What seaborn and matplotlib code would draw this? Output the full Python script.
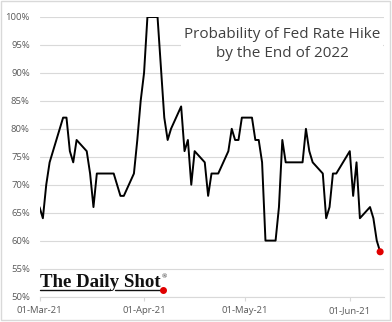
import matplotlib
matplotlib.use("Agg")
import matplotlib.pyplot as plt
import matplotlib.dates as mdates
from matplotlib.ticker import PercentFormatter, MultipleLocator
from matplotlib.lines import Line2D
from matplotlib.patches import Rectangle
import seaborn as sns
import pandas as pd

dates = [
    "2021-03-01", "2021-03-02", "2021-03-03", "2021-03-04", "2021-03-05",
    "2021-03-08", "2021-03-09", "2021-03-10", "2021-03-11", "2021-03-12",
    "2021-03-15", "2021-03-16", "2021-03-17", "2021-03-18", "2021-03-19",
    "2021-03-22", "2021-03-23", "2021-03-24", "2021-03-25", "2021-03-26",
    "2021-03-29", "2021-03-30", "2021-03-31", "2021-04-01", "2021-04-02",
    "2021-04-05", "2021-04-06", "2021-04-07", "2021-04-08", "2021-04-09",
    "2021-04-12", "2021-04-13", "2021-04-14", "2021-04-15", "2021-04-16",
    "2021-04-19", "2021-04-20", "2021-04-21", "2021-04-22", "2021-04-23",
    "2021-04-26", "2021-04-27", "2021-04-28", "2021-04-29", "2021-04-30",
    "2021-05-03", "2021-05-04", "2021-05-05", "2021-05-06", "2021-05-07",
    "2021-05-10", "2021-05-11", "2021-05-12", "2021-05-13", "2021-05-14",
    "2021-05-17", "2021-05-18", "2021-05-19", "2021-05-20", "2021-05-21",
    "2021-05-24", "2021-05-25", "2021-05-26", "2021-05-27", "2021-05-28",
    "2021-06-01", "2021-06-02", "2021-06-03", "2021-06-04",
    "2021-06-07", "2021-06-08", "2021-06-09", "2021-06-10",
]
probability = [
    66, 64, 70, 74, 76, 82, 82, 76, 74, 78, 76, 72, 66, 72, 72,
    72, 72, 70, 68, 68, 72, 78, 85, 90, 100,
    100, 91, 82, 78, 80, 84, 76, 78, 70, 76, 74, 68, 72, 72, 72,
    76, 80, 78, 78, 82,
    82, 78, 78, 74, 60, 60, 66, 78, 74, 74, 74, 74, 80, 76, 74,
    72, 64, 66, 72, 72,
    76, 68, 74, 64, 66, 64, 60, 58,
]
title_text = "Probability of Fed Rate Hike\nby the End of 2022"
logo_text = "The Daily Shot"

df = pd.DataFrame({"date": pd.to_datetime(dates), "prob": probability})

sns.set_theme(style="white")
plt.rcParams["font.family"] = ["Open Sans", "DejaVu Sans"]

fig = plt.figure(figsize=(3.92, 3.22), dpi=100)
fig.patch.set_facecolor("white")
ax = fig.add_axes([39.5 / 392, (322 - 296.5) / 322, (383.5 - 39.5) / 392, (296.5 - 17) / 322])

sns.lineplot(data=df, x="date", y="prob", ax=ax, color="black", linewidth=1.4, zorder=3)
sns.scatterplot(data=df.tail(1), x="date", y="prob", ax=ax, color="#e00000",
                s=26, edgecolor="none", zorder=4)

ax.set_ylim(50, 100)
ax.set_xlim(pd.Timestamp("2021-03-01"), pd.Timestamp("2021-06-11"))
ax.yaxis.set_major_locator(MultipleLocator(5))
ax.yaxis.set_major_formatter(PercentFormatter(decimals=0))
ax.xaxis.set_major_locator(mdates.MonthLocator())
ax.xaxis.set_major_formatter(mdates.DateFormatter("%d-%b-%y"))
ax.set_xlabel("")
ax.set_ylabel("")

ax.grid(axis="y", color="#d9d9d9", linewidth=0.8)
ax.set_axisbelow(True)
for s in ["left", "right", "top"]:
    ax.spines[s].set_visible(False)
ax.spines["bottom"].set_color("#d9d9d9")
ax.spines["bottom"].set_linewidth(0.8)
ax.tick_params(axis="y", length=0, pad=7, labelsize=6.8, labelcolor="#595959")
ax.tick_params(axis="x", length=3, width=0.8, color="#d9d9d9", pad=4,
               labelsize=6.8, labelcolor="#595959", bottom=True, direction="out")

fig.text(282 / 392, 1 - 44 / 322, title_text, ha="center", va="center",
         fontsize=11, color="#404040", linespacing=1.35,
         bbox=dict(facecolor="white", edgecolor="none", pad=2))

# logo
fig.text(40 / 392, 1 - 286.7 / 322, logo_text, ha="left", va="baseline",
         fontsize=13.6, fontweight="bold", family=["Liberation Serif", "DejaVu Serif"],
         color="#111111")
fig.text(161.5 / 392, 1 - 278.5 / 322, "®", ha="left", va="baseline",
         fontsize=5, family=["Liberation Serif", "DejaVu Serif"], color="#111111")
fig.add_artist(Line2D([40 / 392, 110 / 392], [1 - 289.5 / 322] * 2, color="#111111",
                      linewidth=1.0, transform=fig.transFigure))
fig.add_artist(Line2D([115 / 392, 162 / 392], [1 - 289.5 / 322] * 2, color="#111111",
                      linewidth=1.0, transform=fig.transFigure))
fig.add_artist(Line2D([162.7 / 392], [1 - 290 / 322], marker="o", markersize=4,
                      color="#e00000", linestyle="none", transform=fig.transFigure))

fig.add_artist(Rectangle((1 / 392, 2.5 / 322), 388.5 / 392, 318.5 / 322, fill=False,
                         edgecolor="#d9d9d9", linewidth=1.0, transform=fig.transFigure))

fig.savefig("out.png", dpi=100)
